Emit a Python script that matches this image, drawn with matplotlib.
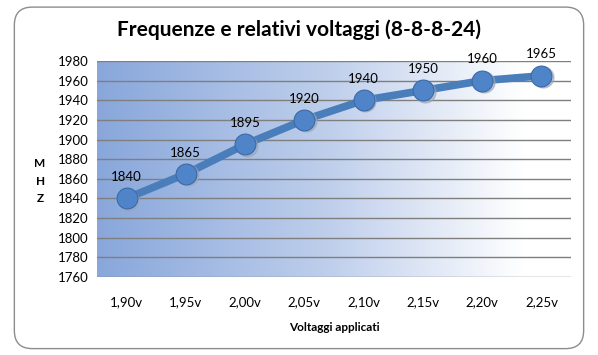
import numpy as np
import matplotlib.pyplot as plt
from matplotlib.patches import FancyBboxPatch
from matplotlib.colors import LinearSegmentedColormap

# Dati
voltaggi = ['1,90v', '1,95v', '2,00v', '2,05v', '2,10v', '2,15v', '2,20v', '2,25v']
mhz = [1840, 1865, 1895, 1920, 1940, 1950, 1960, 1965]
y_ticks = list(range(1760, 1981, 20))

plt.rcParams['font.family'] = ['Lato', 'DejaVu Sans']

fig = plt.figure(figsize=(5.98, 3.55), dpi=100)
fig.patch.set_facecolor('white')

# bordo arrotondato esterno
bordo = FancyBboxPatch((0.024, 0.018), 0.952, 0.962, boxstyle='round,pad=0,rounding_size=0.03',
                       transform=fig.transFigure, facecolor='white', edgecolor='#8c8c8c',
                       linewidth=1.0, mutation_aspect=598 / 355, zorder=-5)
fig.add_artist(bordo)

ax = fig.add_axes([0.162, 0.22, 0.793, 0.608])
ax.set_zorder(2)
ax.patch.set_alpha(0)
x = np.arange(len(voltaggi))

# sfondo sfumato
cmap = LinearSegmentedColormap.from_list('sfondo', [(0, '#89a7db'), (0.5, '#c0d0ec'), (0.9, '#ffffff'), (1, '#ffffff')])
grad = np.linspace(0, 1, 256).reshape(1, -1)
ax.imshow(grad, cmap=cmap, extent=[0, 1, 0, 1], transform=ax.transAxes, aspect='auto', zorder=0)

for v in y_ticks:
    ax.axhline(v, color='#7f7f7f', linewidth=1.0, zorder=1)

ax.plot(x, mhz, color='#4a7ebb', linewidth=5.5, solid_capstyle='round', zorder=2)
ax.plot(x + 0.03, np.array(mhz) - 1.2, 'o', color='#9aa6b6', markersize=15, zorder=2.5, alpha=0.6)
ax.plot(x, mhz, 'o', color='#4f84c9', markersize=15, markeredgecolor='#3b6aa8', markeredgewidth=0.8, zorder=3)

for xi, yi in zip(x, mhz):
    ax.annotate(str(yi), (xi, yi), xytext=(0, 11), textcoords='offset points',
                ha='center', va='bottom', fontsize=9.5, color='black', zorder=4)

ax.set_xlim(-0.5, len(voltaggi) - 0.5)
ax.set_ylim(1760, 1980)
ax.set_yticks(y_ticks)
ax.set_xticks(x)
ax.set_xticklabels(voltaggi)
ax.tick_params(axis='both', length=0, labelsize=9.5)
ax.tick_params(axis='x', pad=14)
ax.tick_params(axis='y', pad=6)
for s in ax.spines.values():
    s.set_visible(False)

ax.set_xlabel('Voltaggi applicati', fontsize=8.5, fontweight='bold', labelpad=10)
fig.text(0.067, 0.49, 'M\nH\nZ', ha='center', va='center', fontsize=8.5, fontweight='bold', linespacing=1.7)

fig.text(0.5, 0.915, 'Frequenze e relativi voltaggi (8-8-8-24)', ha='center', va='center',
         fontsize=15, fontweight='bold')

fig.savefig('out.png', dpi=100)
